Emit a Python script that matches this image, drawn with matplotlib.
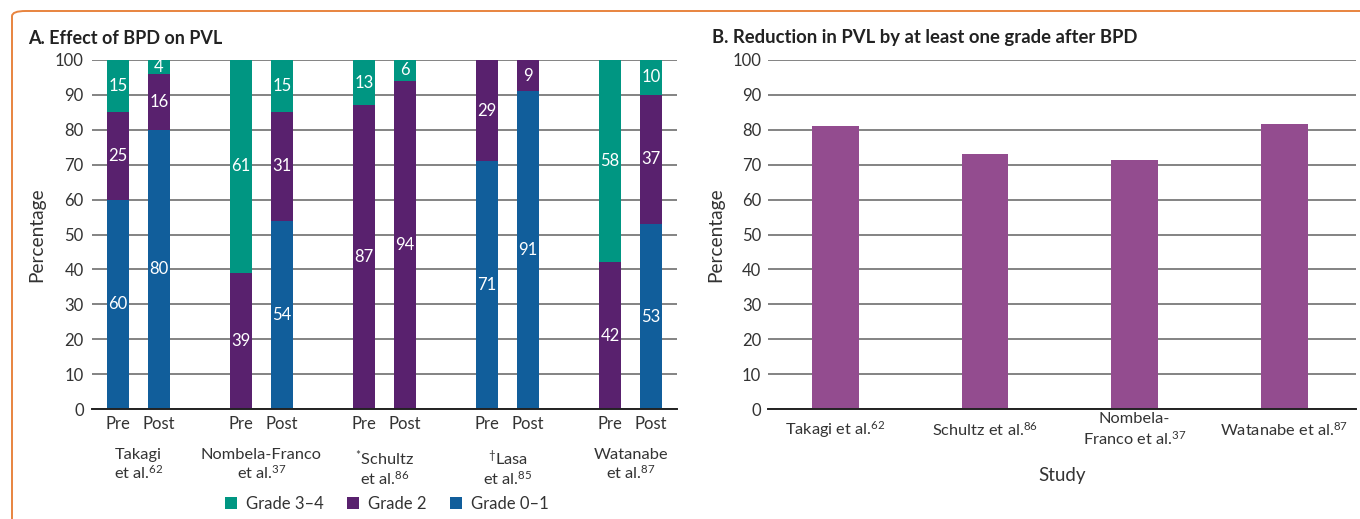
import matplotlib
matplotlib.use("Agg")
import matplotlib.pyplot as plt
import numpy as np
from matplotlib.patches import Patch, FancyBboxPatch
from matplotlib.transforms import blended_transform_factory

plt.rcParams["font.family"] = ["Lato", "DejaVu Sans"]
plt.rcParams["mathtext.fontset"] = "custom"
plt.rcParams["mathtext.rm"] = "Lato"
plt.rcParams["mathtext.it"] = "Lato"
plt.rcParams["mathtext.bf"] = "Lato:bold"
plt.rcParams["mathtext.default"] = "rm"

# ── Data ─────────────────────────────────────────────────────────────────────

studies_a = [
    "Takagi\net al.$^{62}$",
    "Nombela-Franco\net al.$^{37}$",
    "$^{*}$Schultz\net al.$^{86}$",
    "$^{\\dagger}$Lasa\net al.$^{85}$",
    "Watanabe\net al.$^{87}$",
]
phases = ["Pre", "Post"]

grade01_pre = [60, 0, 0, 71, 0]
grade2_pre = [25, 39, 87, 29, 42]
grade34_pre = [15, 61, 13, 0, 58]

grade01_post = [80, 54, 0, 91, 53]
grade2_post = [16, 31, 94, 9, 37]
grade34_post = [4, 15, 6, 0, 10]

legend_labels = ["Grade 3–4", "Grade 2", "Grade 0–1"]

studies_b = [
    "Takagi et al.$^{62}$",
    "Schultz et al.$^{86}$",
    "Nombela-\nFranco et al.$^{37}$",
    "Watanabe et al.$^{87}$",
]
reduction_b = [81.0, 73.0, 71.4, 81.7]

# ── Style ────────────────────────────────────────────────────────────────────

C_TEAL = "#009682"
C_PURPLE = "#59216e"
C_BLUE = "#115e9b"
C_MAUVE = "#934c8f"
C_GRID = "#7a7a7a"
C_TEXT = "#333333"
C_BORDER = "#e8843f"

W, H = 1360, 519
fig = plt.figure(figsize=(W / 100, H / 100), dpi=100)

border = FancyBboxPatch((12 / W, -30 / H), (1420 - 12) / W, (H - 11 + 30) / H,
                        boxstyle="round,pad=0,rounding_size=0.01",
                        transform=fig.transFigure, fill=False,
                        edgecolor=C_BORDER, linewidth=1.4, clip_on=False)
fig.patches.append(border)

ax1 = fig.add_axes([92 / W, 1 - 409 / H, 585 / W, 349 / H])
ax2 = fig.add_axes([768 / W, 1 - 409 / H, 588 / W, 349 / H])


def style_axis(ax, ypad):
    ax.set_ylim(0, 100)
    ax.set_yticks(np.arange(0, 101, 10))
    ax.yaxis.grid(True, color=C_GRID, linewidth=1.3)
    ax.set_axisbelow(True)
    for s in ["top", "right", "left"]:
        ax.spines[s].set_visible(False)
    ax.spines["bottom"].set_color("#222222")
    ax.spines["bottom"].set_linewidth(1.4)
    ax.spines["bottom"].set_zorder(3)
    ax.tick_params(axis="y", length=0, pad=ypad, labelsize=12, labelcolor=C_TEXT)
    ax.tick_params(axis="x", length=0, labelcolor=C_TEXT)


# ── Panel A ──────────────────────────────────────────────────────────────────

style_axis(ax1, 6)
n = len(studies_a)
pre_x = np.arange(n) * 3.0
post_x = pre_x + 1
bw = 0.54

stacks = [
    (pre_x, [grade01_pre, grade2_pre, grade34_pre]),
    (post_x, [grade01_post, grade2_post, grade34_post]),
]
colors = [C_BLUE, C_PURPLE, C_TEAL]
for xs, layers in stacks:
    bottom = np.zeros(n)
    for vals, col in zip(layers, colors):
        vals = np.array(vals, dtype=float)
        ax1.bar(xs, vals, bw, bottom=bottom, color=col, zorder=2)
        for x, b, v in zip(xs, bottom, vals):
            if v > 0:
                ax1.text(x, b + v / 2, f"{v:.0f}", ha="center", va="center",
                         color="white", fontsize=12, zorder=4)
        bottom += vals

ax1.set_xlim(-0.63, 13.63)
ticks = np.sort(np.concatenate([pre_x, post_x]))
ax1.set_xticks(ticks)
ax1.set_xticklabels(phases * n, fontsize=12)
ax1.tick_params(axis="x", pad=5)

trans = blended_transform_factory(ax1.transData, ax1.transAxes)
for x, name in zip(pre_x + 0.5, studies_a):
    ax1.text(x, (409 - 448) / 349, name, transform=trans, ha="center", va="top",
             fontsize=11.8, color=C_TEXT, linespacing=1.1)

handles = [Patch(facecolor=c) for c in [C_TEAL, C_PURPLE, C_BLUE]]
fig.legend(handles, legend_labels, loc="center", bbox_to_anchor=(387 / W, 1 - 504 / H),
           ncol=3, frameon=False, fontsize=12, handlelength=0.7, handleheight=0.7,
           handletextpad=0.55, columnspacing=1.4, labelcolor=C_TEXT)

# ── Panel B ──────────────────────────────────────────────────────────────────

style_axis(ax2, 5)
xb = np.arange(len(studies_b))
ax2.bar(xb, reduction_b, 0.313, color=C_MAUVE, zorder=2)
ax2.set_xlim(-0.45, 3.48)
ax2.set_xticks(xb)
ax2.set_xticklabels(studies_b, fontsize=11.8, linespacing=1.2)
for lab in ax2.get_xticklabels():
    lab.set_verticalalignment("center")
ax2.tick_params(axis="x", pad=15)
ax2.text(0.5, (409 - 476) / 349, "Study", transform=ax2.transAxes, ha="center",
         va="center", fontsize=13.5, color=C_TEXT)

# ── Titles and axis labels ───────────────────────────────────────────────────

fig.text(28 / W, 1 - 38 / H, "A. Effect of BPD on PVL", fontsize=13, fontweight="bold",
         va="center", ha="left", color="#222222")
fig.text(712 / W, 1 - 38 / H, "B. Reduction in PVL by at least one grade after BPD",
         fontsize=13.3, fontweight="bold", va="center", ha="left", color="#222222")
fig.text(37 / W, 1 - 234.5 / H, "Percentage", rotation=90, ha="center", va="center",
         fontsize=13.8, color=C_TEXT)
fig.text(716 / W, 1 - 234.5 / H, "Percentage", rotation=90, ha="center", va="center",
         fontsize=13.8, color=C_TEXT)

fig.savefig("out.png", dpi=100)
